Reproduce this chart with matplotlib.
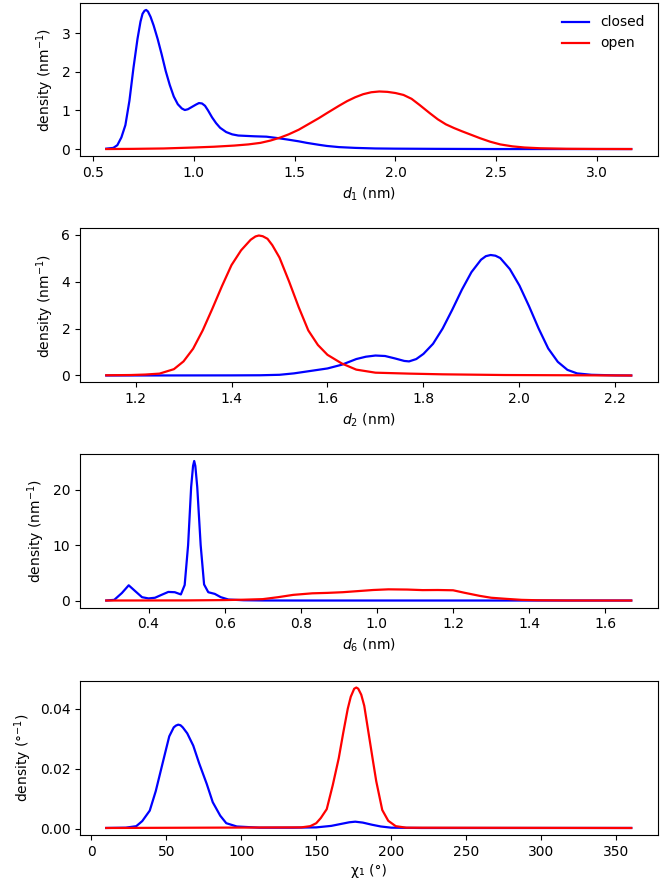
import matplotlib
matplotlib.use("Agg")
import matplotlib.pyplot as plt

# ---------------- data ----------------
# Panel 1: d1 (nm)
d1_closed_x = [0.565, 0.60, 0.62, 0.64, 0.66, 0.68, 0.70, 0.72, 0.735, 0.745, 0.755, 0.763, 0.772, 0.785,
               0.80, 0.82, 0.84, 0.86, 0.88, 0.90, 0.92, 0.94, 0.955, 0.97, 0.99, 1.01, 1.025, 1.04,
               1.055, 1.07, 1.09, 1.11, 1.13, 1.16, 1.19, 1.22, 1.26, 1.30, 1.36, 1.42, 1.46, 1.52,
               1.56, 1.62, 1.66, 1.72, 1.80, 1.90, 2.0, 2.2, 2.5, 3.17]
d1_closed_y = [0.01, 0.03, 0.10, 0.30, 0.62, 1.25, 2.10, 2.85, 3.30, 3.50, 3.58, 3.60, 3.56, 3.42,
               3.20, 2.85, 2.45, 2.02, 1.66, 1.36, 1.16, 1.05, 1.01, 1.03, 1.09, 1.15, 1.19, 1.18,
               1.12, 1.00, 0.82, 0.67, 0.55, 0.44, 0.38, 0.35, 0.34, 0.33, 0.32, 0.28, 0.25, 0.20,
               0.16, 0.11, 0.08, 0.05, 0.03, 0.015, 0.01, 0.005, 0.0, 0.0]
d1_open_x = [0.565, 0.7, 0.85, 1.0, 1.1, 1.2, 1.27, 1.33, 1.38, 1.43, 1.47, 1.52, 1.56, 1.62, 1.66,
             1.72, 1.76, 1.80, 1.84, 1.88, 1.92, 1.96, 2.0, 2.04, 2.08, 2.12, 2.17, 2.21, 2.25, 2.29,
             2.33, 2.37, 2.42, 2.47, 2.52, 2.58, 2.64, 2.72, 2.85, 3.0, 3.17]
d1_open_y = [0.0, 0.005, 0.015, 0.04, 0.06, 0.09, 0.12, 0.16, 0.22, 0.30, 0.38, 0.50, 0.62, 0.80, 0.93,
             1.12, 1.24, 1.34, 1.42, 1.47, 1.49, 1.48, 1.45, 1.40, 1.30, 1.14, 0.93, 0.77, 0.64, 0.545,
             0.46, 0.38, 0.28, 0.19, 0.12, 0.07, 0.04, 0.02, 0.007, 0.002, 0.0]

# Panel 2: d2 (nm)
d2_closed_x = [1.139, 1.40, 1.46, 1.50, 1.53, 1.57, 1.60, 1.63, 1.66, 1.68, 1.70, 1.72, 1.74, 1.76,
               1.77, 1.785, 1.80, 1.82, 1.84, 1.86, 1.88, 1.90, 1.92, 1.93, 1.94, 1.95, 1.96, 1.98,
               2.00, 2.02, 2.04, 2.06, 2.08, 2.10, 2.12, 2.15, 2.20, 2.233]
d2_closed_y = [0.0, 0.005, 0.01, 0.03, 0.09, 0.21, 0.30, 0.46, 0.70, 0.80, 0.85, 0.83, 0.73, 0.62,
               0.60, 0.70, 0.92, 1.35, 2.00, 2.80, 3.65, 4.40, 4.93, 5.08, 5.13, 5.10, 5.00, 4.53,
               3.83, 2.95, 2.00, 1.15, 0.58, 0.24, 0.09, 0.03, 0.005, 0.0]
d2_open_x = [1.139, 1.19, 1.22, 1.25, 1.28, 1.30, 1.32, 1.34, 1.36, 1.38, 1.40, 1.42, 1.44, 1.45,
             1.457, 1.465, 1.475, 1.485, 1.50, 1.52, 1.54, 1.56, 1.58, 1.60, 1.63, 1.66, 1.70, 1.77,
             1.84, 1.97, 2.10, 2.233]
d2_open_y = [0.01, 0.02, 0.04, 0.08, 0.27, 0.60, 1.14, 1.92, 2.84, 3.80, 4.70, 5.33, 5.78, 5.92,
             5.96, 5.93, 5.82, 5.55, 5.02, 4.00, 2.91, 1.92, 1.30, 0.88, 0.51, 0.25, 0.12, 0.08,
             0.05, 0.02, 0.01, 0.0]

# Panel 3: d6 (nm)
d6_closed_x = [0.289, 0.31, 0.33, 0.348, 0.365, 0.383, 0.40, 0.417, 0.435, 0.452, 0.469, 0.485,
               0.495, 0.504, 0.512, 0.517, 0.52, 0.523, 0.528, 0.537, 0.546, 0.557, 0.574, 0.59,
               0.61, 0.65, 0.7, 0.8, 1.668]
d6_closed_y = [0.0, 0.12, 1.35, 2.75, 1.70, 0.60, 0.38, 0.50, 1.05, 1.55, 1.50, 1.10,
               2.80, 10.0, 20.5, 24.3, 25.2, 24.3, 20.5, 10.0, 2.9, 1.50, 1.20, 0.60,
               0.18, 0.05, 0.01, 0.0, 0.0]
d6_open_x = [0.289, 0.50, 0.60, 0.65, 0.70, 0.74, 0.78, 0.83, 0.87, 0.91, 0.95, 0.99, 1.03, 1.08,
             1.12, 1.16, 1.20, 1.23, 1.27, 1.30, 1.34, 1.38, 1.42, 1.50, 1.668]
d6_open_y = [0.0, 0.02, 0.08, 0.15, 0.25, 0.60, 1.02, 1.30, 1.38, 1.50, 1.70, 1.90, 2.02, 1.98,
             1.88, 1.90, 1.85, 1.40, 0.84, 0.50, 0.30, 0.12, 0.05, 0.01, 0.0]

# Panel 4: chi1 (deg)
chi_closed_x = [10, 23, 30, 34, 39, 43, 48, 52, 55, 56.5, 58, 59.5, 61, 64, 68, 72, 77, 81, 86, 90,
                97, 112, 134, 150, 160, 166, 172, 176, 181, 187, 193, 200, 220, 360]
chi_closed_y = [0.0002, 0.0003, 0.0008, 0.0025, 0.0060, 0.0125, 0.0227, 0.0308, 0.0338, 0.0344,
                0.0347, 0.0345, 0.0338, 0.0318, 0.0277, 0.0217, 0.0149, 0.0088, 0.0043, 0.0018,
                0.0007, 0.0003, 0.0003, 0.0004, 0.0009, 0.0015, 0.0021, 0.0023, 0.0020, 0.0013,
                0.0007, 0.0003, 0.0002, 0.0002]
chi_open_x = [10, 140, 146, 150, 153, 157, 161, 165, 168, 171, 173, 175.3, 176.7, 178, 180, 182,
              185, 188, 190, 194, 198, 203, 210, 360]
chi_open_y = [0.0002, 0.0004, 0.0008, 0.0018, 0.0035, 0.0065, 0.0145, 0.0235, 0.0320, 0.0400,
              0.0440, 0.0467, 0.0471, 0.0467, 0.0447, 0.0410, 0.0315, 0.0220, 0.0158, 0.0062,
              0.0026, 0.0008, 0.0003, 0.0002]

xlabels = [r"$d_1$ (nm)", r"$d_2$ (nm)", r"$d_6$ (nm)", "χ₁ (°)"]
ylabels = [r"density (nm$^{-1}$)", r"density (nm$^{-1}$)", r"density (nm$^{-1}$)", r"density (°$^{-1}$)"]
xticks = [[0.5, 1.0, 1.5, 2.0, 2.5, 3.0],
          [1.2, 1.4, 1.6, 1.8, 2.0, 2.2],
          [0.4, 0.6, 0.8, 1.0, 1.2, 1.4, 1.6],
          [0, 50, 100, 150, 200, 250, 300, 350]]

series = [
    (d1_closed_x, d1_closed_y, d1_open_x, d1_open_y),
    (d2_closed_x, d2_closed_y, d2_open_x, d2_open_y),
    (d6_closed_x, d6_closed_y, d6_open_x, d6_open_y),
    (chi_closed_x, chi_closed_y, chi_open_x, chi_open_y),
]

# ---------------- figure ----------------
W, H = 661, 888
fig = plt.figure(figsize=(W / 100, H / 100), dpi=100)

# axes boxes in pixels (left, top, right, bottom)
boxes = [(80, 3, 657.5, 156), (80, 228.5, 657.5, 382.5), (80, 454, 657.5, 607.5), (80, 680.5, 657.5, 835)]

for i, (box, (cx, cy, ox, oy)) in enumerate(zip(boxes, series)):
    l, t, r, b = box
    ax = fig.add_axes([l / W, 1 - b / H, (r - l) / W, (b - t) / H])
    ax.plot(cx, cy, color="blue", lw=1.6, label="closed", solid_joinstyle="round")
    ax.plot(ox, oy, color="red", lw=1.6, label="open", solid_joinstyle="round")
    ax.set_xticks(xticks[i])
    ax.set_xlabel(xlabels[i])
    ax.set_ylabel(ylabels[i])
    if i == 3:
        ax.set_yticks([0.00, 0.02, 0.04])
    if i == 0:
        ax.legend(loc="upper right", frameon=False)

fig.savefig("out.png", dpi=100)
